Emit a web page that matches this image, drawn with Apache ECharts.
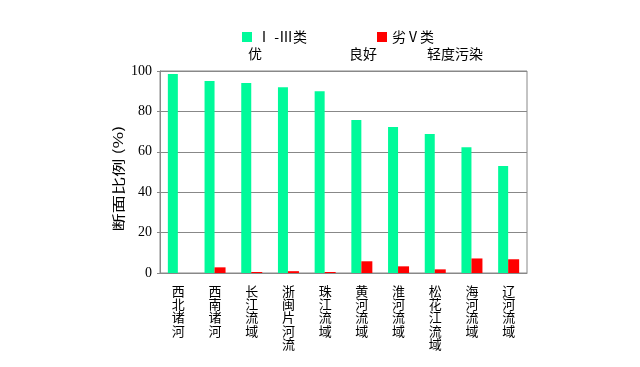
<!DOCTYPE html>
<html><head><meta charset="utf-8">
<script src="https://cdn.jsdelivr.net/npm/echarts@6/dist/echarts.min.js"></script>
<style>html,body{margin:0;padding:0;background:#fff}#c{width:640px;height:367px}</style>
</head><body><div id="c"></div>
<script>
const categories = ['西北诸河','西南诸河','长江流域','浙闽片河流','珠江流域','黄河流域','淮河流域','松花江流域','海河流域','辽河流域'];
const goodName = 'Ⅰ -Ⅲ类';
const badName = '劣Ⅴ类';
const goodValues = [98.5, 95.0, 94.0, 92.0, 90.0, 75.7, 72.3, 68.8, 62.2, 53.0];
const badValues = [0, 2.8, 0.5, 0.9, 0.5, 5.8, 3.3, 1.8, 7.2, 6.8];
const yTicks = [0, 20, 40, 60, 80, 100];
const levelTexts = ['优', '良好', '轻度污染'];
const yTitle = '断面比例 (%)';

const cjk = '"Noto Sans CJK SC", sans-serif';
const chart = echarts.init(document.getElementById('c'));
chart.setOption({
  animation: false,
  backgroundColor: '#fff',
  grid: {left: 160, right: 113, top: 71, bottom: 94, show: true, borderColor: '#888', borderWidth: 1},
  legend: [
    {data: [goodName], left: 237, top: 25, itemWidth: 10, itemHeight: 10, icon: 'rect',
     textStyle: {fontFamily: cjk, fontSize: 14, color: '#000'}},
    {data: [badName], left: 372, top: 25, itemWidth: 10, itemHeight: 10, icon: 'rect',
     textStyle: {fontFamily: cjk, fontSize: 14, color: '#000'}}
  ],
  graphic: [
    {type: 'text', left: 248, top: 47, style: {text: levelTexts[0], font: '14px ' + cjk, fill: '#000'}},
    {type: 'text', left: 349, top: 47, style: {text: levelTexts[1], font: '14px ' + cjk, fill: '#000'}},
    {type: 'text', left: 427, top: 47, style: {text: levelTexts[2], font: '14px ' + cjk, fill: '#000'}},
    {type: 'text', x: 118.5, y: 178.5, rotation: Math.PI / 2, scaleX: 1.4,
     style: {text: yTitle, font: '13px ' + cjk, fill: '#000', align: 'center', verticalAlign: 'middle'}}
  ],
  xAxis: {
    type: 'category', data: categories,
    axisLine: {lineStyle: {color: '#888'}},
    axisTick: {inside: true, length: 5, lineStyle: {color: '#888'}},
    axisLabel: {interval: 0, margin: 11, color: '#000', fontFamily: cjk, fontSize: 13, lineHeight: 13.4,
      verticalAlign: 'top', formatter: v => v.split('').join('\n')}
  },
  yAxis: {
    type: 'value', min: yTicks[0], max: yTicks[yTicks.length-1], interval: 20,
    axisLine: {show: true, lineStyle: {color: '#888'}},
    axisTick: {show: true, length: 3, lineStyle: {color: '#888'}},
    splitLine: {lineStyle: {color: '#888'}},
    axisLabel: {color: '#000', fontFamily: '"Liberation Serif", serif', fontSize: 14, margin: 8}
  },
  series: [
    {name: goodName, type: 'bar', data: goodValues, barWidth: 10, barGap: '0%',
     itemStyle: {color: '#00FA9A'}},
    {name: badName, type: 'bar', data: badValues, barWidth: 11, barGap: '0%',
     itemStyle: {color: '#FF0000'}}
  ]
});
</script></body></html>
